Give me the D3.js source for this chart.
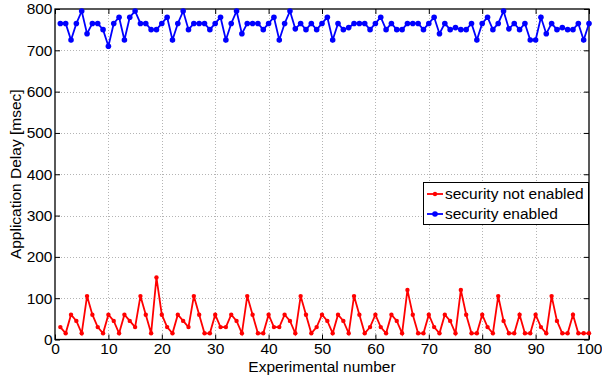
<!DOCTYPE html>
<html>
<head>
<meta charset="utf-8">
<script src="https://cdn.jsdelivr.net/npm/d3@7"></script>
<style>
  html, body { margin: 0; padding: 0; background: #fff; }
  svg { display: block; font-family: "Liberation Sans", Arial, Helvetica, sans-serif; }
</style>
</head>
<body>
<svg id="chart" width="602" height="377"></svg>
<script>
// Application delay per experiment, with and without security
const experiments = d3.range(1, 101);

const notEnabled = [
  30, 15, 60, 45, 15, 105, 60, 30, 15, 60,
  45, 15, 60, 45, 30, 105, 60, 15, 150, 60,
  30, 15, 60, 45, 30, 105, 60, 15, 15, 60,
  30, 30, 60, 45, 15, 105, 60, 15, 15, 60,
  30, 30, 60, 45, 15, 105, 60, 15, 30, 60,
  45, 15, 60, 45, 15, 105, 60, 15, 30, 60,
  30, 15, 60, 45, 15, 120, 60, 15, 15, 60,
  30, 15, 60, 45, 15, 120, 60, 15, 15, 60,
  30, 15, 105, 45, 15, 15, 60, 15, 15, 60,
  30, 15, 105, 45, 15, 15, 60, 15, 15, 15
];

const enabled = [
  765, 765, 725, 765, 795, 740, 765, 765, 750, 710,
  765, 780, 725, 780, 795, 765, 765, 750, 750, 765,
  780, 725, 765, 795, 750, 765, 765, 765, 750, 765,
  780, 725, 765, 795, 740, 765, 765, 765, 750, 765,
  780, 725, 765, 795, 752, 765, 750, 765, 750, 765,
  780, 725, 765, 750, 755, 765, 765, 765, 750, 765,
  780, 750, 765, 750, 750, 765, 765, 765, 750, 765,
  780, 740, 765, 750, 755, 750, 750, 765, 725, 765,
  780, 750, 765, 795, 752, 765, 750, 765, 725, 725,
  780, 740, 765, 750, 755, 750, 750, 765, 725, 765
];

const xTicks = d3.range(0, 101, 10);
const yTicks = d3.range(0, 801, 100);

const seriesNames = ["security not enabled", "security enabled"];
const seriesColors = ["#ff0000", "#0000ff"];

const svg = d3.select("#chart");
const W = 602, H = 377;
const margin = { left: 55, right: 13, top: 9, bottom: 37.5 };
const iw = W - margin.left - margin.right;
const ih = H - margin.top - margin.bottom;

const x = d3.scaleLinear().domain([0, 100]).range([margin.left, margin.left + iw]);
const y = d3.scaleLinear().domain([0, 800]).range([margin.top + ih, margin.top]);

// dotted grid
const grid = svg.append("g").attr("stroke", "#b4b4b4").attr("stroke-width", 1)
  .attr("stroke-dasharray", "1,2");
grid.selectAll(".gx").data(xTicks.slice(1, -1)).join("line")
  .attr("x1", d => Math.round(x(d)) + 0.5).attr("x2", d => Math.round(x(d)) + 0.5)
  .attr("y1", y(800)).attr("y2", y(0));
grid.selectAll(".gy").data(yTicks.slice(1, -1)).join("line")
  .attr("y1", d => Math.round(y(d)) + 0.5).attr("y2", d => Math.round(y(d)) + 0.5)
  .attr("x1", x(0)).attr("x2", x(100));

// axes with inward ticks on all four sides
const tickFont = "15.5px";
const titleFont = "15.5px";
const bottomAxis = d3.axisBottom(x).tickValues(xTicks).tickSize(-5).tickPadding(3.5).tickFormat(d3.format("d"));
const topAxis = d3.axisTop(x).tickValues(xTicks).tickSize(-5).tickFormat("");
const leftAxis = d3.axisLeft(y).tickValues(yTicks).tickSize(-5).tickPadding(2.5).tickFormat(d3.format("d"));
const rightAxis = d3.axisRight(y).tickValues(yTicks).tickSize(-5).tickFormat("");

function styleAxis(g) {
  g.selectAll("line").attr("stroke", "#000");
  g.selectAll("text").attr("fill", "#000").style("font-size", tickFont);
}

svg.append("g").attr("transform", `translate(0,${y(0)})`).call(bottomAxis).call(styleAxis);
svg.append("g").attr("transform", `translate(0,${y(800)})`).call(topAxis).call(styleAxis);
svg.append("g").attr("transform", `translate(${x(0)},0)`).call(leftAxis).call(styleAxis);
svg.append("g").attr("transform", `translate(${x(100)},0)`).call(rightAxis).call(styleAxis);
svg.selectAll(".domain").remove();
svg.append("rect")
  .attr("x", x(0)).attr("y", y(800)).attr("width", x(100) - x(0)).attr("height", y(0) - y(800))
  .attr("fill", "none").attr("stroke", "#000").attr("stroke-width", 1.3);

// axis titles
svg.append("text")
  .attr("x", x(50)).attr("y", 372)
  .attr("text-anchor", "middle").style("font-size", titleFont)
  .text("Experimental number");
svg.append("text")
  .attr("transform", `translate(21,${y(400)}) rotate(-90)`)
  .attr("text-anchor", "middle").style("font-size", titleFont)
  .text("Application Delay [msec]");

// series
const lineGen = d3.line().x((d, i) => x(experiments[i])).y(d => y(d));
const allSeries = [notEnabled, enabled];
const markerR = [2.2, 2.8];

allSeries.forEach((vals, s) => {
  svg.append("path").datum(vals)
    .attr("d", lineGen)
    .attr("fill", "none")
    .attr("stroke", seriesColors[s])
    .attr("stroke-width", 1.8)
    .attr("stroke-linejoin", "miter");
  svg.append("g").selectAll("circle").data(vals).join("circle")
    .attr("cx", (d, i) => x(experiments[i]))
    .attr("cy", d => y(d))
    .attr("r", markerR[s])
    .attr("fill", seriesColors[s]);
});

// legend
const lg = svg.append("g");
lg.append("rect")
  .attr("x", 423.5).attr("y", 182.5).attr("width", 165).attr("height", 42)
  .attr("fill", "#fff").attr("stroke", "#000").attr("stroke-width", 1);
seriesNames.forEach((name, s) => {
  const ly = 194 + s * 20;
  lg.append("line")
    .attr("x1", 427).attr("x2", 443).attr("y1", ly).attr("y2", ly)
    .attr("stroke", seriesColors[s]).attr("stroke-width", 1.8);
  lg.append("circle").attr("cx", 435).attr("cy", ly).attr("r", markerR[s]).attr("fill", seriesColors[s]);
  lg.append("text")
    .attr("x", 445).attr("y", ly).attr("dy", "0.35em")
    .style("font-size", titleFont)
    .text(name);
});
</script>
</body>
</html>
